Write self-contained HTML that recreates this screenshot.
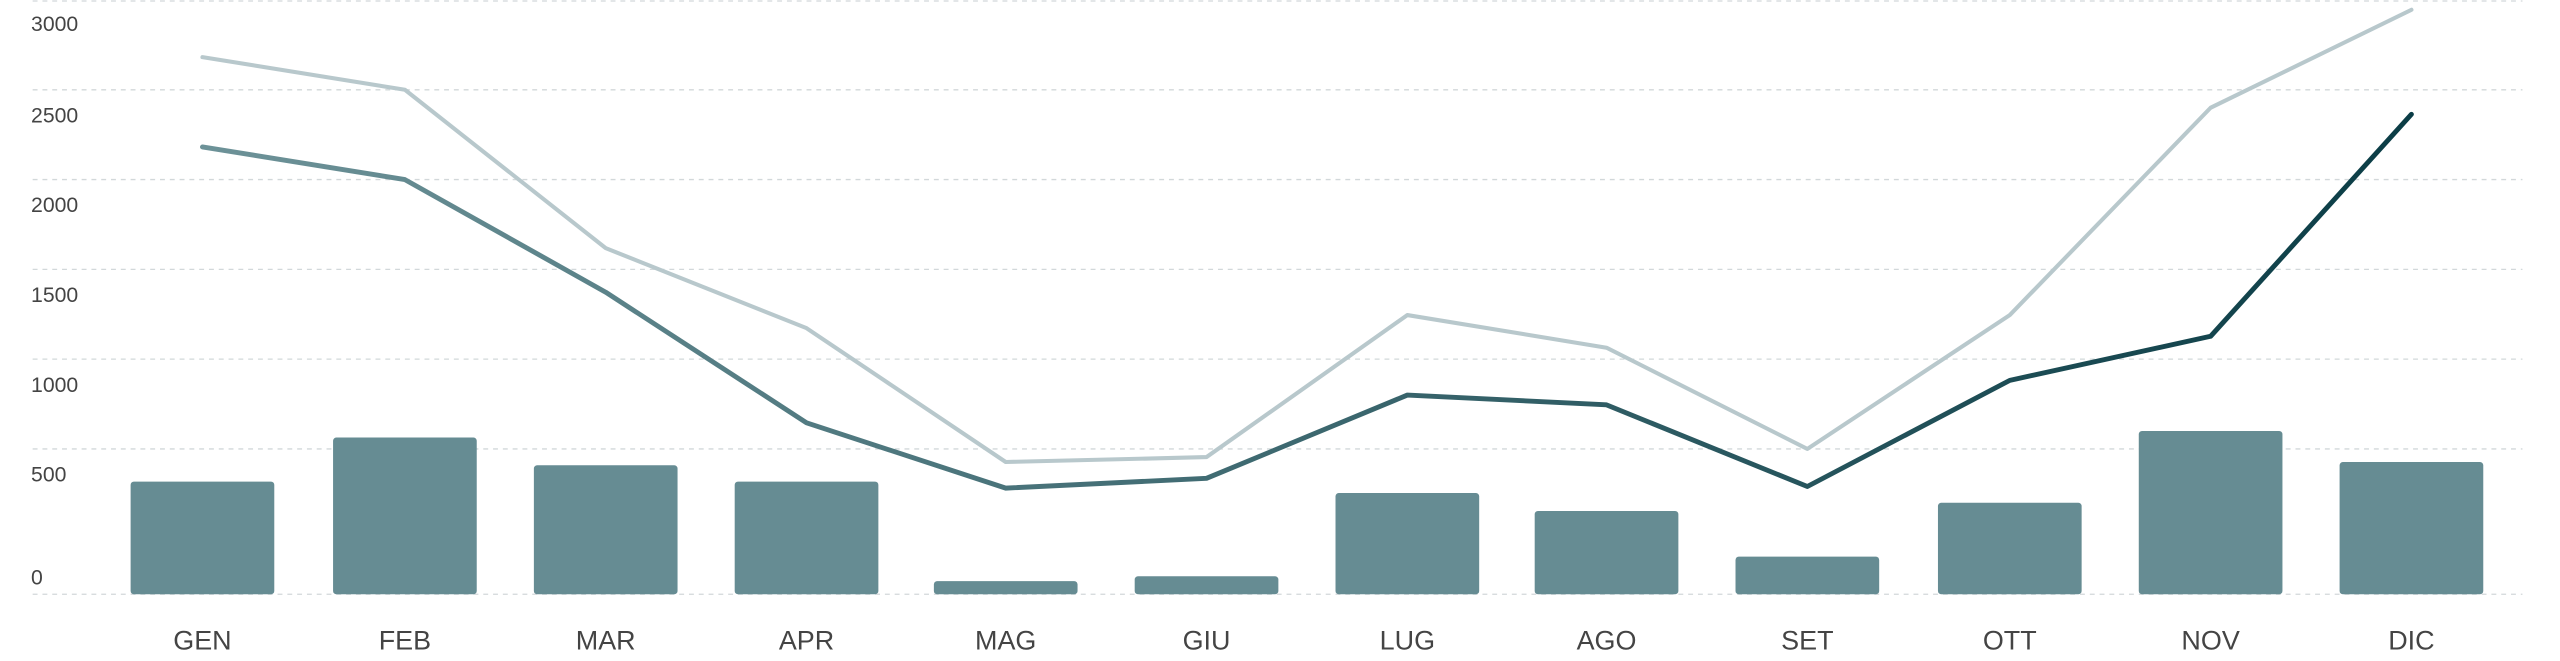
<!DOCTYPE html>
<html><head><meta charset="utf-8"><style>
html,body{margin:0;padding:0;background:#fff;}
svg{display:block;}
text{font-family:"Liberation Sans",sans-serif;}
</style></head><body>
<svg width="2560" height="661" viewBox="0 0 1568 404.9" preserveAspectRatio="none" xmlns="http://www.w3.org/2000/svg">
<defs>
<linearGradient id="g" x1="124" y1="0" x2="1477" y2="0" gradientUnits="userSpaceOnUse">
<stop offset="0" stop-color="#6d9298"/><stop offset="1" stop-color="#0b3d46"/>
</linearGradient>
</defs>
<g stroke="#d2d8da" stroke-width="0.8" stroke-dasharray="3,3">
<line x1="20" y1="0.6" x2="1545" y2="0.6"/>
<line x1="20" y1="55" x2="1545" y2="55"/>
<line x1="20" y1="110" x2="1545" y2="110"/>
<line x1="20" y1="165" x2="1545" y2="165"/>
<line x1="20" y1="220" x2="1545" y2="220"/>
<line x1="20" y1="275" x2="1545" y2="275"/>
<line x1="20" y1="364" x2="1545" y2="364"/>
</g>
<g font-size="13" fill="#444">
<text x="19" y="19">3000</text>
<text x="19" y="75">2500</text>
<text x="19" y="130">2000</text>
<text x="19" y="185">1500</text>
<text x="19" y="240">1000</text>
<text x="19" y="295">500</text>
<text x="19" y="358">0</text>
</g>
<g fill="#668c93">
<rect x="80" y="295" width="88" height="69" rx="2"/>
<rect x="204" y="268" width="88" height="96" rx="2"/>
<rect x="327" y="285" width="88" height="79" rx="2"/>
<rect x="450" y="295" width="88" height="69" rx="2"/>
<rect x="572" y="356" width="88" height="8" rx="2"/>
<rect x="695" y="353" width="88" height="11" rx="2"/>
<rect x="818" y="302" width="88" height="62" rx="2"/>
<rect x="940" y="313" width="88" height="51" rx="2"/>
<rect x="1063" y="341" width="88" height="23" rx="2"/>
<rect x="1187" y="308" width="88" height="56" rx="2"/>
<rect x="1310" y="264" width="88" height="100" rx="2"/>
<rect x="1433" y="283" width="88" height="81" rx="2"/>
</g>
<polyline fill="none" stroke="#b8c8cc" stroke-width="2.5" stroke-linecap="round" stroke-linejoin="round"
points="124,35 248,55 371,152 494,201 616,283 739,280 862,193 984,213 1107,275 1231,193 1354,66 1477,6"/>
<polyline fill="none" stroke="url(#g)" stroke-width="3" stroke-linecap="round" stroke-linejoin="round"
points="124,90 248,110 371,179 494,259 616,299 739,293 862,242 984,248 1107,298 1231,233 1354,206 1477,70"/>
<g font-size="16.5" fill="#444" text-anchor="middle">
<text x="124" y="398">GEN</text>
<text x="248" y="398">FEB</text>
<text x="371" y="398">MAR</text>
<text x="494" y="398">APR</text>
<text x="616" y="398">MAG</text>
<text x="739" y="398">GIU</text>
<text x="862" y="398">LUG</text>
<text x="984" y="398">AGO</text>
<text x="1107" y="398">SET</text>
<text x="1231" y="398">OTT</text>
<text x="1354" y="398">NOV</text>
<text x="1477" y="398">DIC</text>
</g>
</svg>
</body></html>
